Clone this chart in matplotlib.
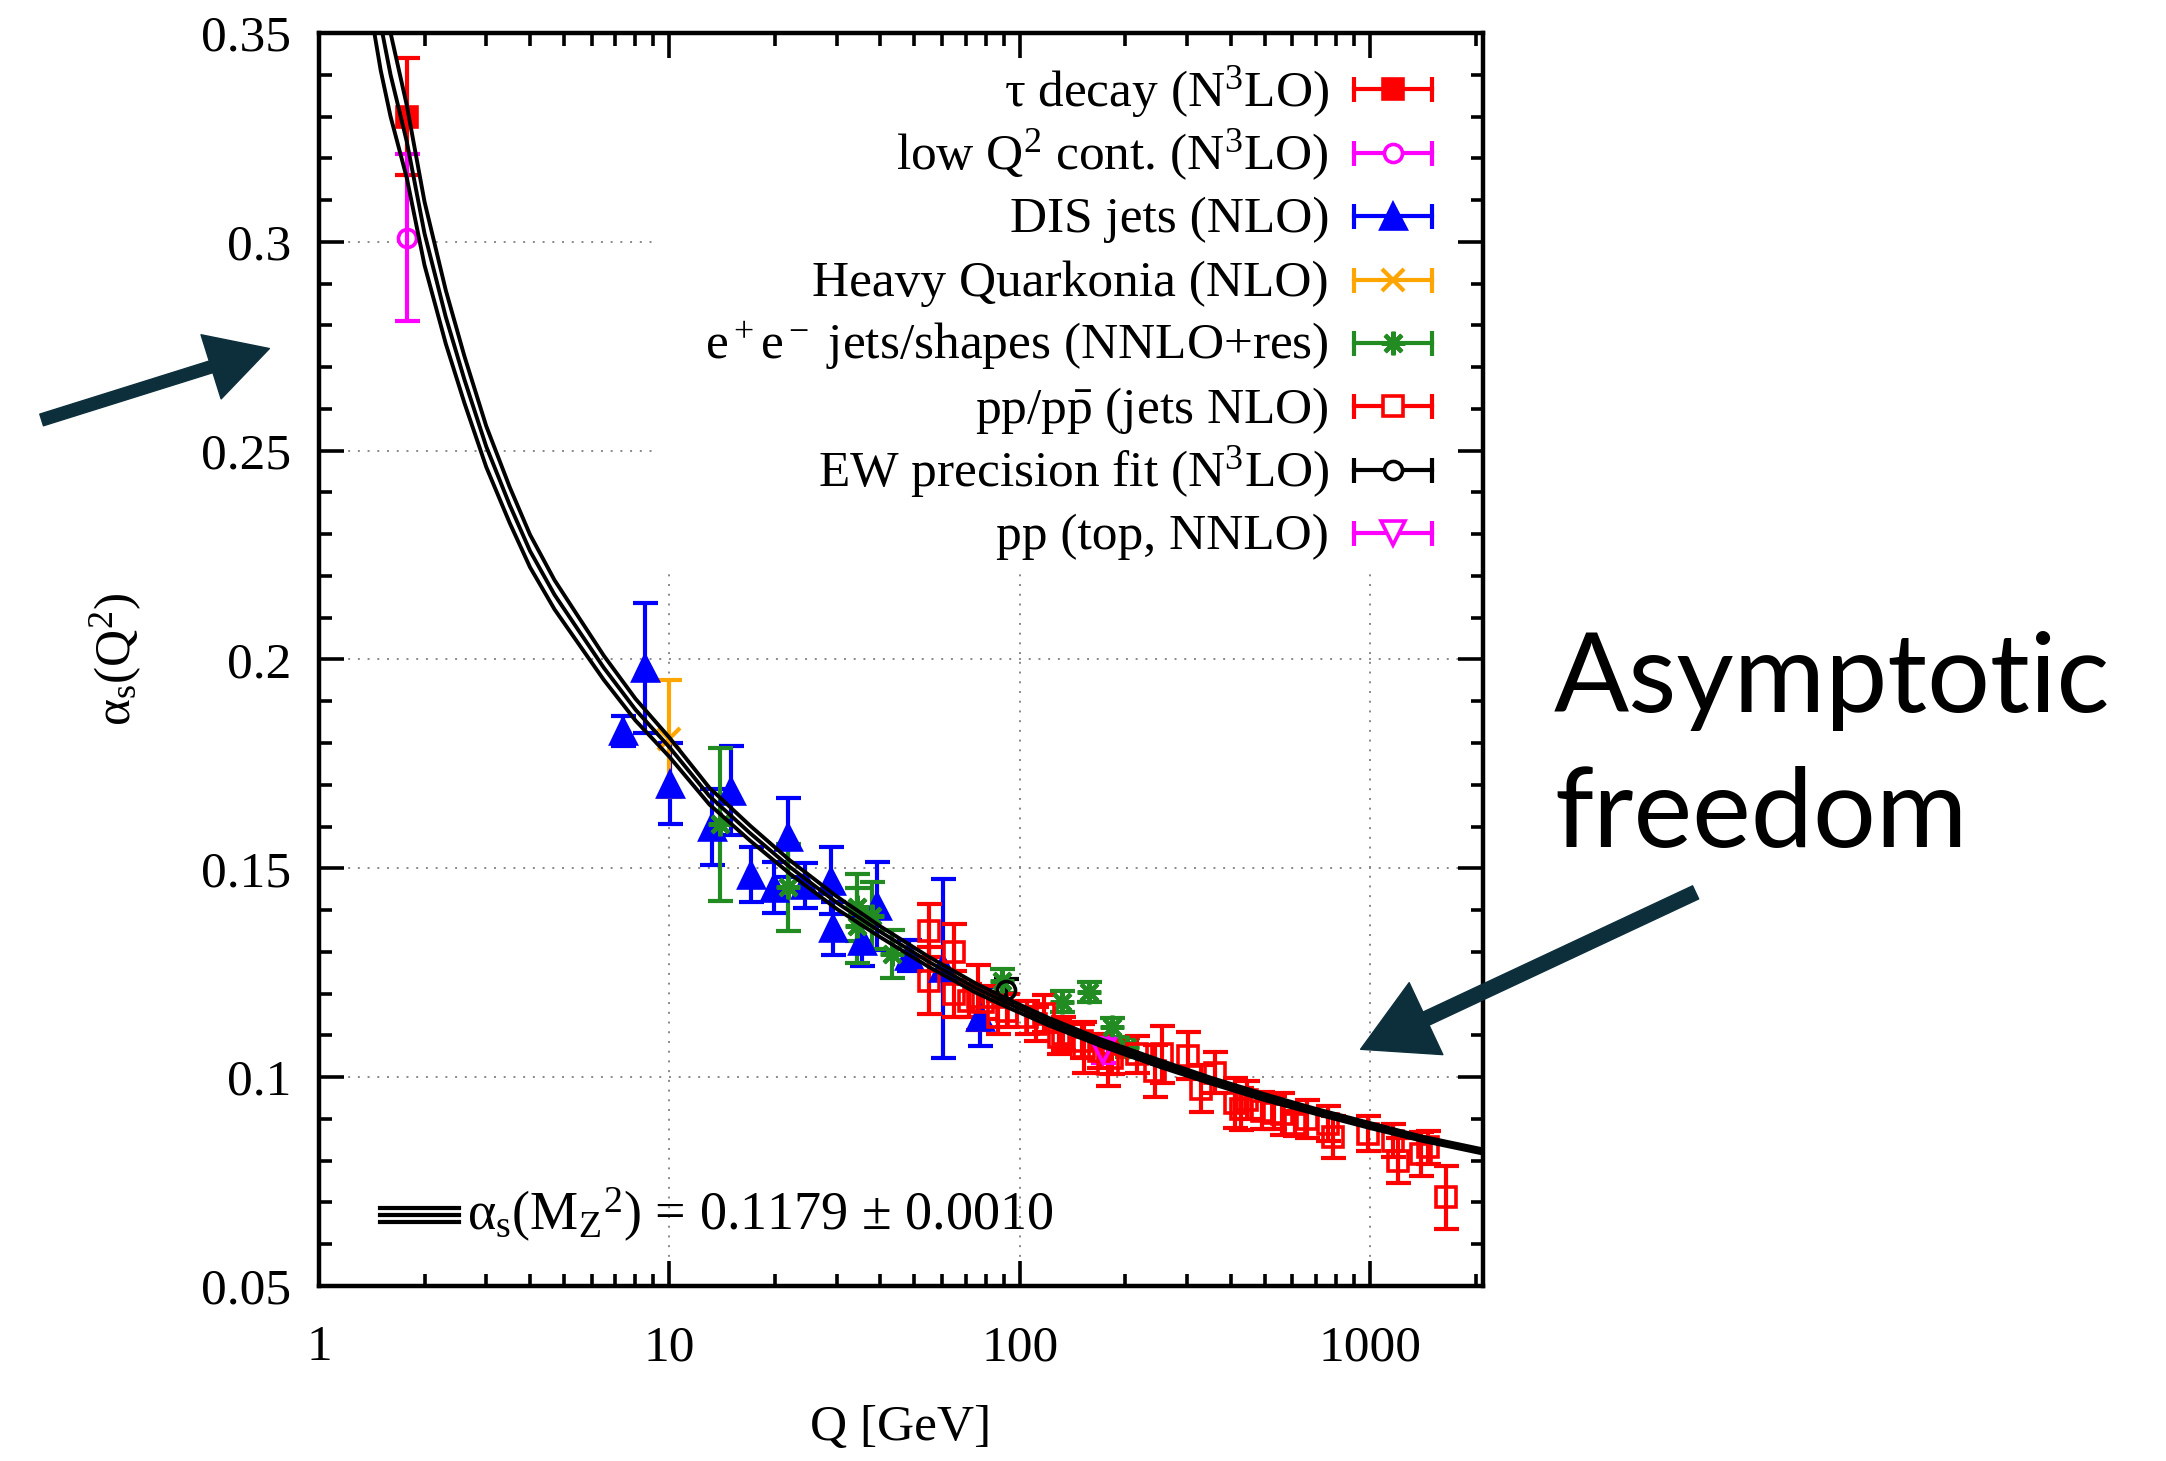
import numpy as np
import matplotlib.pyplot as plt
from matplotlib.lines import Line2D
from matplotlib.patches import FancyArrowPatch

plt.rcParams['font.family'] = ['Liberation Serif', 'DejaVu Serif']
plt.rcParams['mathtext.fontset'] = 'custom'
plt.rcParams['mathtext.rm'] = 'Liberation Serif'
plt.rcParams['mathtext.it'] = 'Liberation Serif:italic'
plt.rcParams['mathtext.bf'] = 'Liberation Serif:bold'

# running coupling band
curve_q = [1.3, 1.4, 1.5, 1.6, 1.78, 2.0, 2.3, 2.6, 3.0, 3.5, 4.0, 4.7, 5.5, 6.5, 8.0,
           10, 13, 17, 22, 30, 40, 55, 75, 91.19, 120, 170, 250, 350, 500, 700, 1000, 1400, 2100]
curve_a = [0.390, 0.368, 0.352, 0.340, 0.324, 0.302, 0.282, 0.267, 0.251, 0.237, 0.226, 0.2155,
           0.207, 0.198, 0.188, 0.179, 0.1673, 0.1584, 0.1504, 0.1418, 0.1348, 0.1276, 0.1213,
           0.1179, 0.1134, 0.1083, 0.1033, 0.0992, 0.0952, 0.0918, 0.0884, 0.0853, 0.0822]
curve_e = [0.0140, 0.0122, 0.0110, 0.0100, 0.0087, 0.0076, 0.0064, 0.0056, 0.0049, 0.0043,
           0.0039, 0.0035, 0.0032, 0.0029, 0.0026, 0.0023, 0.0020, 0.0018, 0.0016, 0.0015,
           0.0013, 0.0012, 0.0011, 0.0010, 0.0009, 0.0008, 0.0008, 0.0007, 0.0007, 0.0006,
           0.0006, 0.0005, 0.0005]

tau_q, tau_a, tau_e = [1.78], [0.330], [0.014]
lowq_q, lowq_a, lowq_e = [1.78], [0.301], [0.020]
dis_q = [7.36, 8.49, 10.05, 13.2, 15.0, 17.1, 19.9, 21.8, 24.4, 28.9, 29.3, 35.5, 39.2, 48.3, 60.2, 77.0]
dis_a = [0.1828, 0.198, 0.1703, 0.160, 0.1686, 0.1485, 0.1454, 0.1574, 0.1459, 0.147, 0.1356,
         0.1327, 0.141, 0.1291, 0.1261, 0.1145]
dis_e = [0.0036, 0.0156, 0.0097, 0.0091, 0.0106, 0.0066, 0.0062, 0.0094, 0.0054, 0.008, 0.0064,
         0.006, 0.0106, 0.0038, 0.0214, 0.007]
hq_q, hq_a, hq_e = [10.0], [0.181], [0.014]
ee_q = [13.9, 21.8, 34.4, 34.4, 37.9, 43.3, 89.0, 132, 158, 183, 202]
ee_a = [0.1605, 0.1455, 0.1407, 0.1363, 0.1387, 0.1295, 0.1231, 0.1181, 0.1203, 0.1119, 0.1071]
ee_e = [0.0183, 0.0104, 0.008, 0.009, 0.008, 0.0058, 0.0029, 0.0025, 0.0024, 0.0022, 0.0022]
pp_q = [54.9, 54.9, 64.9, 64.9, 71.8, 76.2, 78.5, 86.9, 91.9, 105, 111.5, 117.6, 129, 132.5,
        150.6, 152, 168, 179, 183.5, 216, 243.6, 254, 303, 330, 361, 412, 429, 445, 490, 530,
        559, 610, 660, 759, 785, 987, 1163, 1202, 1400, 1463, 1650]
pp_a = [0.1351, 0.1231, 0.1299, 0.1199, 0.1183, 0.1191, 0.1179, 0.1143, 0.1159, 0.1143, 0.1127,
        0.1152, 0.1095, 0.1104, 0.1087, 0.1071, 0.1063, 0.1031, 0.1047, 0.1055, 0.1015, 0.1055,
        0.1051, 0.0972, 0.1011, 0.0939, 0.0924, 0.0945, 0.0920, 0.0915, 0.0912, 0.0888, 0.0900,
        0.0888, 0.0856, 0.0864, 0.0848, 0.0800, 0.0816, 0.0832, 0.0712]
pp_e = [0.0064, 0.008, 0.0067, 0.0056, 0.004, 0.0078, 0.004, 0.004, 0.004, 0.004, 0.004, 0.0045,
        0.004, 0.004, 0.004, 0.006, 0.004, 0.0052, 0.004, 0.0044, 0.0062, 0.0068, 0.0056, 0.0056,
        0.005, 0.006, 0.005, 0.0045, 0.0044, 0.004, 0.005, 0.003, 0.0045, 0.0042, 0.005, 0.0042,
        0.004, 0.0054, 0.0053, 0.004, 0.0076]
ew_q, ew_a, ew_e = [91.19], [0.1208], [0.0028]
top_q, top_a, top_e = [173], [0.1063], [0.003]

labels = [r'τ decay (N$^3$LO)', r'low Q$^2$ cont. (N$^3$LO)', 'DIS jets (NLO)',
          'Heavy Quarkonia (NLO)', r'e$^+$e$^-$ jets/shapes (NNLO+res)',
          r'pp/p$\bar{\mathrm{p}}$ (jets NLO)', r'EW precision fit (N$^3$LO)', 'pp (top, NNLO)']
xticks = [1, 10, 100, 1000]
xticklabels = ['1', '10', '100', '1000']
yticks = [0.05, 0.1, 0.15, 0.2, 0.25, 0.3, 0.35]
yticklabels = ['0.05', '0.1', '0.15', '0.2', '0.25', '0.3', '0.35']

series = [
    (tau_q, tau_a, tau_e, 's', '#ff0000', True),
    (lowq_q, lowq_a, lowq_e, 'o', '#ff00ff', False),
    (dis_q, dis_a, dis_e, '^', '#0000ff', True),
    (hq_q, hq_a, hq_e, 'x', '#ffa500', True),
    (ee_q, ee_a, ee_e, (8, 2, 0), '#228b22', True),
    (pp_q, pp_a, pp_e, 's', '#ff0000', False),
    (ew_q, ew_a, ew_e, 'o', '#000000', False),
    (top_q, top_a, top_e, 'v', '#ff00ff', False),
]
msizes = [15, 13, 18, 16, 17, 15, 13, 17]
LW = 3.0

fig = plt.figure(figsize=(21.66, 14.61), dpi=100)
ax = fig.add_axes([0.1473, 0.1198, 0.5374, 0.8576])

# grid (interrupted by the key area)
gstyle = dict(color='#888888', lw=1.4, ls=(0, (1, 4)), zorder=0.5)
for yv in [0.1, 0.15, 0.2]:
    ax.axhline(yv, **gstyle)
for yv in [0.25, 0.3]:
    ax.axhline(yv, xmin=0, xmax=0.289, **gstyle)
for xv in [10, 100, 1000]:
    ax.axvline(xv, ymin=0, ymax=0.57, **gstyle)

for (q, a, e, m, c, filled), ms in zip(series, msizes):
    ax.errorbar(q, a, yerr=e, fmt='none', ecolor=c, elinewidth=LW, capsize=9, capthick=LW, zorder=2)
    ax.plot(q, a, ls='none', marker=m, ms=ms, mec=c, mfc=c if filled else 'none',
            mew=LW if m in ('x', (8, 2, 0)) else 2.6, color=c, zorder=2.1)

ca = np.array(curve_a)
ce = np.array(curve_e)
for yy in (ca + ce, ca, ca - ce):
    ax.plot(curve_q, yy, color='black', lw=2.8, zorder=3)

ax.set_xscale('log')
ax.set_xlim(1, 2100)
ax.set_ylim(0.05, 0.35)
ax.set_xticks(xticks, labels=xticklabels)
ax.xaxis.set_minor_formatter(plt.NullFormatter())
ax.set_yticks(yticks, labels=yticklabels)
ax.set_yticks(np.arange(0.05, 0.351, 0.01), minor=True)
ax.tick_params(which='both', direction='in', top=True, right=True, width=2.6, labelsize=37)
ax.tick_params(which='major', length=18)
ax.tick_params(which='minor', length=9)
ax.tick_params(axis='x', pad=28)
ax.tick_params(axis='y', pad=20)
for sp in ax.spines.values():
    sp.set_linewidth(3.2)

ax.set_xlabel('Q [GeV]', fontsize=37, labelpad=24)
ax.set_ylabel(r'α$_\mathrm{s}$(Q$^2$)', fontsize=37)
ax.yaxis.set_label_coords(-0.150, 0.5)

# key
x_text, x0, x1 = 0.8677, 0.889, 0.956
y0, dy = 0.955, 0.0506
for i, (lab, (q, a, e, m, c, filled), ms) in enumerate(zip(labels, series, msizes)):
    yk = y0 - i * dy
    ax.text(x_text, yk - 0.013, lab, ha='right', va='baseline', fontsize=37, transform=ax.transAxes)
    ax.add_line(Line2D([x0, x1], [yk, yk], color=c, lw=LW, transform=ax.transAxes, clip_on=False))
    ax.add_line(Line2D([x0, x1], [yk, yk], color=c, ls='none', marker='|', ms=18, mew=LW,
                       transform=ax.transAxes, clip_on=False))
    ax.add_line(Line2D([(x0 + x1) / 2], [yk], ls='none', marker=m, ms=ms, mec=c,
                       mfc=c if filled else 'white', mew=LW if m in ('x', (8, 2, 0)) else 2.6,
                       transform=ax.transAxes, clip_on=False, zorder=5))

# band key
for dyy in (-0.0055, 0, 0.0055):
    ax.add_line(Line2D([0.052, 0.120], [0.0565 + dyy] * 2, color='black', lw=3.0,
                       transform=ax.transAxes))
ax.text(0.127, 0.0445, r'α$_\mathrm{s}$(M$_\mathrm{Z}{}^2$) = 0.1179 ± 0.0010', fontsize=39,
        ha='left', va='baseline', transform=ax.transAxes)

# annotations
acol = '#0d2f3b'
fig.add_artist(FancyArrowPatch((0.018, 0.712), (0.1256, 0.762), transform=fig.transFigure,
                               arrowstyle='simple,head_length=1.0,head_width=1.1,tail_width=0.2',
                               mutation_scale=44, color=acol))
fig.add_artist(FancyArrowPatch((0.784, 0.390), (0.627, 0.281), transform=fig.transFigure,
                               arrowstyle='simple,head_length=1.0,head_width=1.1,tail_width=0.2',
                               mutation_scale=52, color=acol))
fig.text(0.7175, 0.513, 'Asymptotic', fontsize=80, family='Lato', ha='left', va='baseline')
fig.text(0.7175, 0.420, 'freedom', fontsize=80, family='Lato', ha='left', va='baseline')

fig.savefig('out.png', dpi=100)
